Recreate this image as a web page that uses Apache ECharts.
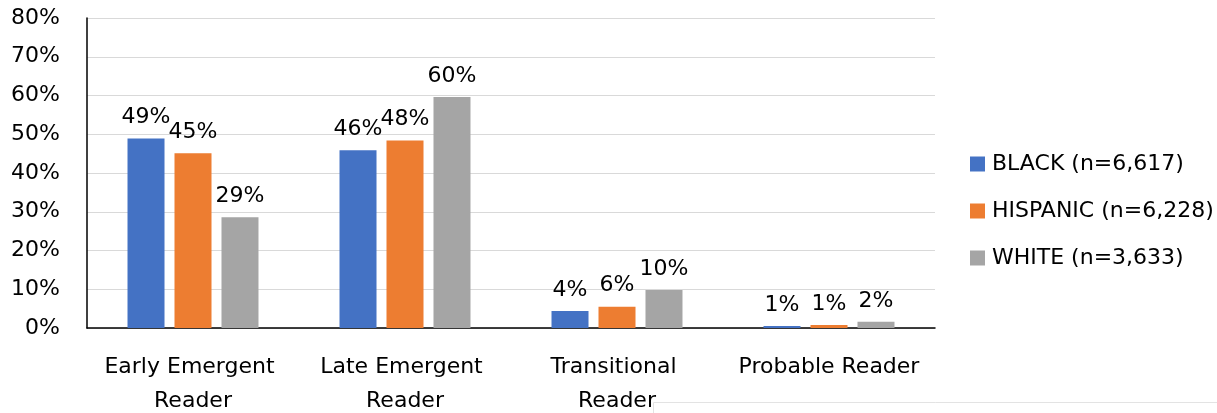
<!DOCTYPE html>
<html>
<head>
<meta charset="utf-8">
<title>Reading level by group</title>
<script src="https://cdn.jsdelivr.net/npm/echarts@6/dist/echarts.min.js"></script>
<style>
  html, body { margin: 0; padding: 0; background: #fff; }
  #chart { width: 1217px; height: 413px; }
</style>
</head>
<body>
<div id="chart"></div>
<script>
// Reading-level categories along the x axis
const categories = ['Early Emergent Reader', 'Late Emergent Reader', 'Transitional Reader', 'Probable Reader'];

// Share of students (%) in each category, by group
const blackValues    = [48.9, 45.9, 4.4, 0.5];
const hispanicValues = [45.1, 48.4, 5.5, 0.8];
const whiteValues    = [28.6, 59.6, 9.8, 1.6];

const seriesNames = ['BLACK (n=6,617)', 'HISPANIC (n=6,228)', 'WHITE (n=3,633)'];
const seriesColors = ['#4472c4', '#ed7d31', '#a5a5a5'];

// Y axis ticks: 0% to 80% in steps of 10
const yMin = 0, yMax = 80, yStep = 10;

const FONT = 'DejaVu Sans';
const TEXT = '#000000';

const chart = echarts.init(document.getElementById('chart'), null, { renderer: 'canvas' });

function barSeries(name, values, color) {
  return {
    name: name,
    type: 'bar',
    data: values,
    barWidth: 37,
    barGap: '27%',
    itemStyle: { color: color },
    label: {
      show: true,
      position: 'top',
      distance: 10,
      fontFamily: FONT,
      fontSize: 22,
      color: TEXT,
      formatter: p => Math.round(p.value) + '%'
    }
  };
}

chart.setOption({
  animation: false,
  backgroundColor: '#ffffff',
  textStyle: { fontFamily: FONT },
  grid: { left: 87, right: 282, top: 18, bottom: 85, containLabel: false, outerBoundsMode: 'none' },
  legend: {
    orient: 'vertical',
    left: 965,
    top: 148,
    itemWidth: 15,
    itemHeight: 15,
    itemGap: 25,
    icon: 'rect',
    textStyle: { fontFamily: FONT, fontSize: 22, color: TEXT, padding: [0, 0, 0, 2] },
    data: seriesNames
  },
  xAxis: {
    type: 'category',
    data: categories,
    axisLine: { show: true, lineStyle: { color: '#000000', width: 1.5 } },
    axisTick: { show: false },
    axisLabel: {
      fontFamily: FONT,
      fontSize: 22,
      color: TEXT,
      margin: 22,
      lineHeight: 34,
      width: 200,
      overflow: 'break',
      interval: 0
    }
  },
  yAxis: {
    type: 'value',
    min: yMin,
    max: yMax,
    interval: yStep,
    axisLine: { show: true, lineStyle: { color: '#000000', width: 1.5 } },
    axisTick: { show: false },
    splitLine: { show: true, lineStyle: { color: '#d9d9d9', width: 1 } },
    axisLabel: {
      fontFamily: FONT,
      fontSize: 22,
      color: TEXT,
      margin: 27,
      formatter: v => v + '%'
    }
  },
  series: [
    barSeries(seriesNames[0], blackValues, seriesColors[0]),
    barSeries(seriesNames[1], hispanicValues, seriesColors[1]),
    barSeries(seriesNames[2], whiteValues, seriesColors[2])
  ],
  graphic: [{
    type: 'rect',
    left: 653,
    top: 402,
    shape: { width: 600, height: 20 },
    style: { fill: '#ffffff', stroke: '#e3e3e3', lineWidth: 1 },
    z: 100
  }]
});
</script>
</body>
</html>
